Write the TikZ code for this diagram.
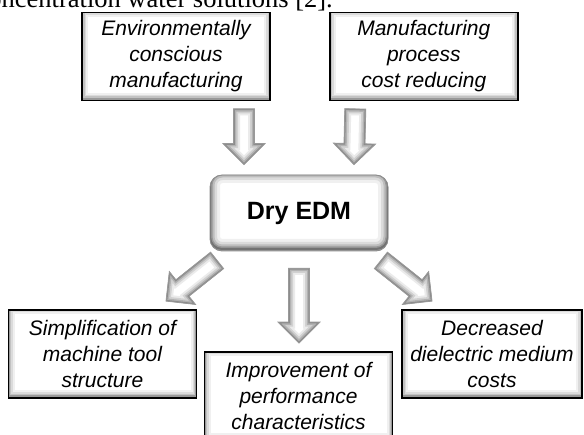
\documentclass[tikz,border=0pt]{standalone}
\usepackage{fontspec}
\setmainfont{Liberation Sans}
\newfontfamily\timesfont{Liberation Serif}
\usetikzlibrary{calc, positioning}

% outline of a block arrow from #1 to its tip #2
\newcommand\blockarrowpath[2]{($(#1)!10.5pt!90:(#2)$) -- ($(#1-h)!10.5pt!90:(#2)$) -- ($(#1-h)!21pt!90:(#2)$) -- (#2) -- ($(#1-h)!21pt!-90:(#2)$) -- ($(#1-h)!10.5pt!-90:(#2)$) -- ($(#1)!10.5pt!-90:(#2)$) -- cycle}

% block arrow, white in the middle and grey towards its edges
\newcommand\blockarrow[2]{%
    \coordinate (#1-h) at ($(#2)!21pt!(#1)$);
    \begin{scope}
        \clip \blockarrowpath{#1}{#2};
        \fill[white] \blockarrowpath{#1}{#2};
        \foreach \glowwidth/\glowtint in {13pt/8, 9pt/18, 5.5pt/30, 2.5pt/45}
            \draw[line width=\glowwidth, black!\glowtint] \blockarrowpath{#1}{#2};
    \end{scope}
    \draw[black!40, line width=0.8pt] \blockarrowpath{#1}{#2};
}

\begin{document}
\begin{tikzpicture}[
            x=1pt, y=1pt,
            box/.style={draw, line width=1.8pt, fill=white, minimum width=188pt, minimum height=88pt,
                inner sep=0pt, align=center, font=\fontsize{21}{26}\selectfont\itshape,
                path picture={
                    \foreach \glowwidth/\glowtint in {12pt/6, 8pt/14, 5pt/24, 2.5pt/40}
                        \draw[line width=\glowwidth, black!\glowtint]
                            ([yshift=1.5pt]path picture bounding box.south west) rectangle
                            ([yshift=1.5pt]path picture bounding box.north east);
                }},
            drybox/.style={draw=black!45, line width=0.8pt, fill=white, rounded corners=12pt,
                minimum width=178pt, minimum height=76pt, inner sep=0pt,
                font=\fontsize{25}{30}\selectfont\bfseries,
                path picture={
                    \foreach \glowwidth/\glowtint in {20pt/6, 14pt/14, 9pt/26, 5pt/40, 2pt/55}
                        \draw[line width=\glowwidth, black!\glowtint, rounded corners=12pt]
                            ([yshift=2pt]path picture bounding box.south west) rectangle
                            ([yshift=2pt]path picture bounding box.north east);
                }},
            leadtext/.style={inner sep=0pt, font=\timesfont\fontsize{26.5}{32}\selectfont}
        ]

        \useasboundingbox (0,0) rectangle (584,434);
        \clip (0,0) rectangle (584,434);

        % line of running text above
        \node[leadtext, anchor=base east] (lead) at (333,426.5) {concentration water solutions [2].};

        % causes
        \node[box] (env) at (176,377.5) {Environmentally\\conscious\\manufacturing};
        \node[box, right=58pt of env] (cost) {Manufacturing\\process\\cost reducing};

        % central box
        \node[drybox] (dry) at (299,221) {Dry EDM};

        % effects
        \node[box] (simp) at (102.5,80) {Simplification of\\machine tool\\structure};
        \node[box] (perf) at (298.5,38) {Improvement of\\performance\\characteristics};
        \node[box, minimum width=180pt] (costs) at (492,80) {Decreased\\dielectric medium\\costs};

        % arrow ends
        \coordinate (envarr) at ($(env.south)+(68,-7.5)$);
        \coordinate (envtip) at ($(dry.north)+(-55,10)$);
        \coordinate (costarr) at ($(cost.south)+(-68.5,-7.5)$);
        \coordinate (costtip) at ($(dry.north)+(55,10)$);
        \coordinate (simparr) at ($(dry.south west)+(7.5,-9)$);
        \coordinate (simptip) at ($(simp.north)+(63.5,8)$);
        \coordinate (perfarr) at ($(dry.south)+(0,-17)$);
        \coordinate (perftip) at ($(perf.north)+(0.5,8)$);
        \coordinate (costsarr) at ($(dry.south east)+(-7.5,-9)$);
        \coordinate (coststip) at ($(costs.north)+(-60,8)$);

        % block arrows
        \blockarrow{envarr}{envtip}
        \blockarrow{costarr}{costtip}
        \blockarrow{simparr}{simptip}
        \blockarrow{perfarr}{perftip}
        \blockarrow{costsarr}{coststip}

        \end{tikzpicture}
\end{document}
